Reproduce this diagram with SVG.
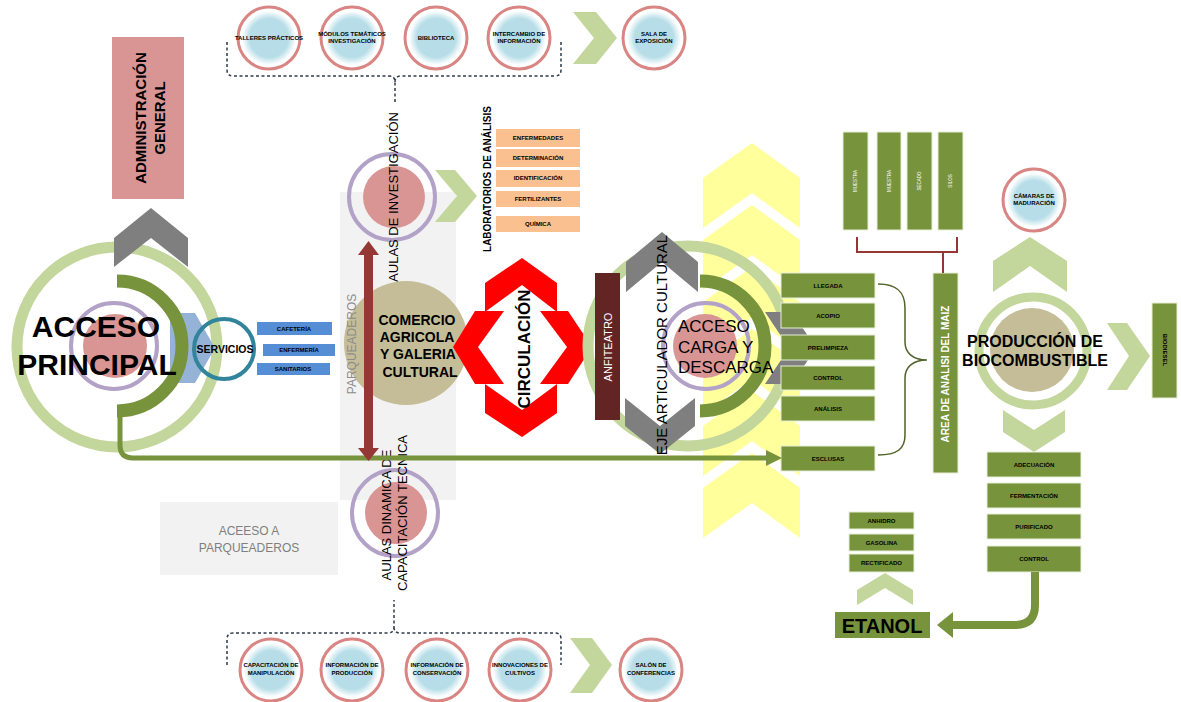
<svg xmlns="http://www.w3.org/2000/svg" width="1181" height="702" viewBox="0 0 1181 702">
<defs>
  <radialGradient id="lb" cx="0.5" cy="0.5" r="0.5">
    <stop offset="0" stop-color="#b7dee8"/>
    <stop offset="0.72" stop-color="#b7dee8"/>
    <stop offset="1" stop-color="#ffffff"/>
  </radialGradient>
  <style>
    text{font-family:"Liberation Sans",Arial,sans-serif;fill:#000}
    .ringL{fill:none;stroke:#c3d69b;stroke-width:11}
    .arcD{fill:none;stroke:#77933c;stroke-width:13}
    .pinkc{fill:#d99594}
    .purpRing{fill:none;stroke:#b3a2c7;stroke-width:4}
    .chevG{fill:#7f7f7f}
    .chevL{fill:#c3d69b}
    .chevY{fill:#ffff9c}
    .sm{font-size:6px;font-weight:bold;text-anchor:middle}
    .smRing{fill:none;stroke:#d98584;stroke-width:3}
    .gbox{fill:#77933c;stroke:#e8eed8;stroke-width:1}
    .obox{fill:#fac090}
    .bbox{fill:#558ed5}
    .red{fill:#ff0000}
    .vt{text-anchor:middle;dominant-baseline:central}
    .dash{fill:none;stroke:#2f3b4c;stroke-width:1.5;stroke-dasharray:3 2.5}
  </style>
</defs>
<rect width="1181" height="702" fill="#ffffff"/>

<!-- parking strip and parking access -->
<g id="parqueaderos">
  <rect x="340" y="192" width="116" height="308" fill="#f2f2f2"/>
</g>
<g id="acceso-parqueaderos">
  <rect x="160" y="502" width="178" height="73" fill="#f2f2f2"/>
  <text x="249" y="535" font-size="12" text-anchor="middle" style="fill:#7f7f7f">ACEESO A</text>
  <text x="249" y="552" font-size="12" text-anchor="middle" style="fill:#7f7f7f">PARQUEADEROS</text>
</g>

<!-- yellow chevron column -->
<g id="eje-chevrones">
  <polygon class="chevY" points="703,178 752,143 800,178 800,228 752,193 703,228"/>
  <polygon class="chevY" points="703,240 752,205 800,240 800,290 752,255 703,290"/>
  <polygon class="chevY" points="703,302 752,267 800,302 800,352 752,317 703,352"/>
  <polygon class="chevY" points="703,364 752,329 800,364 800,414 752,379 703,414"/>
  <polygon class="chevY" points="703,426 752,391 800,426 800,476 752,441 703,476"/>
  <polygon class="chevY" points="703,488 752,453 800,488 800,538 752,503 703,538"/>
</g>

<!-- top row of services -->
<g id="fila-superior">
  <g id="talleres"><circle cx="269" cy="38" r="27" fill="url(#lb)"/><circle class="smRing" cx="269" cy="38" r="31"/><text class="sm" x="269" y="40">TALLERES PRÁCTICOS</text></g>
  <g id="modulos"><circle cx="352" cy="38" r="27" fill="url(#lb)"/><circle class="smRing" cx="352" cy="38" r="31"/><text class="sm" x="352" y="36">MÓDULOS TEMÁTICOS</text><text class="sm" x="352" y="43">INVESTIGACIÓN</text></g>
  <g id="biblioteca"><circle cx="436" cy="38" r="27" fill="url(#lb)"/><circle class="smRing" cx="436" cy="38" r="31"/><text class="sm" x="436" y="40">BIBLIOTECA</text></g>
  <g id="intercambio"><circle cx="519" cy="38" r="27" fill="url(#lb)"/><circle class="smRing" cx="519" cy="38" r="31"/><text class="sm" x="519" y="36">INTERCAMBIO DE</text><text class="sm" x="519" y="43">INFORMACIÓN</text></g>
  <polygon class="chevL" points="573,12 596,12 617,38 596,64 573,64 594,38"/>
  <g id="salas"><circle cx="654" cy="38" r="27" fill="url(#lb)"/><circle class="smRing" cx="654" cy="38" r="31"/><text class="sm" x="654" y="36">SALA DE</text><text class="sm" x="654" y="43">EXPOSICIÓN</text></g>
</g>

<!-- bottom row of services -->
<g id="fila-inferior">
  <g id="capacitacion"><circle cx="271" cy="670" r="27" fill="url(#lb)"/><circle class="smRing" cx="271" cy="670" r="31"/><text class="sm" x="271" y="667">CAPACITACIÓN DE</text><text class="sm" x="271" y="675">MANIPULACIÓN</text></g>
  <g id="produccion-info"><circle cx="352" cy="670" r="27" fill="url(#lb)"/><circle class="smRing" cx="352" cy="670" r="31"/><text class="sm" x="352" y="667">INFORMACIÓN DE</text><text class="sm" x="352" y="675">PRODUCCIÓN</text></g>
  <g id="conservacion"><circle cx="437" cy="670" r="27" fill="url(#lb)"/><circle class="smRing" cx="437" cy="670" r="31"/><text class="sm" x="437" y="667">INFORMACIÓN DE</text><text class="sm" x="437" y="675">CONSERVACIÓN</text></g>
  <g id="innovaciones"><circle cx="520" cy="670" r="27" fill="url(#lb)"/><circle class="smRing" cx="520" cy="670" r="31"/><text class="sm" x="520" y="667">INNOVACIONES DE</text><text class="sm" x="520" y="675">CULTIVOS</text></g>
  <polygon class="chevL" points="570,638 592,638 612,665 592,693 570,693 590,665"/>
  <g id="conferencias"><circle cx="651" cy="670" r="27" fill="url(#lb)"/><circle class="smRing" cx="651" cy="670" r="31"/><text class="sm" x="651" y="667">SALÓN DE</text><text class="sm" x="651" y="675">CONFERENCIAS</text></g>
</g>

<!-- administration -->
<g id="administracion">
  <rect x="112" y="37" width="72" height="162" fill="#d99594"/>
  <text class="vt" transform="translate(140,118) rotate(-90)" font-size="15" font-weight="bold">ADMINISTRACIÓN</text>
  <text class="vt" transform="translate(159,118) rotate(-90)" font-size="15" font-weight="bold">GENERAL</text>
</g>

<!-- main access -->
<g id="acceso-principal">
  <circle class="ringL" cx="117" cy="347" r="100"/>
  <circle class="purpRing" cx="114" cy="346" r="43"/>
  <circle class="pinkc" cx="115" cy="346" r="32"/>
  <polygon class="chevG" points="114,238 151,208 188,238 188,267 151,238 114,267"/>
  <polygon fill="#95b3d7" points="170,313 195,313 215,348 195,383 170,383"/>
  <path class="arcD" d="M117,281 A65,65 0 0 1 117,411"/>
  <text x="96" y="337" font-size="30" font-weight="bold" text-anchor="middle">ACCESO</text>
  <text x="97" y="375" font-size="30" font-weight="bold" text-anchor="middle">PRINCIPAL</text>
</g>

<!-- services -->
<g id="servicios">
  <circle cx="224" cy="349" r="30" fill="none" stroke="#31849b" stroke-width="4"/>
  <text x="225" y="353" font-size="10.5" font-weight="bold" text-anchor="middle">SERVICIOS</text>
  <rect class="bbox" x="257" y="322" width="75" height="13"/>
  <rect class="bbox" x="263" y="344" width="72" height="12"/>
  <rect class="bbox" x="257" y="363" width="73" height="12"/>
  <text class="sm" x="294" y="331">CAFETERÍA</text>
  <text class="sm" x="299" y="352">ENFERMERÍA</text>
  <text class="sm" x="293" y="371">SANITARIOS</text>
</g>

<!-- research classrooms -->
<g id="aulas-investigacion">
  <circle class="purpRing" cx="392" cy="197" r="43"/>
  <circle class="pinkc" cx="394" cy="197" r="31"/>
  <text class="vt" transform="translate(393,197) rotate(-90)" font-size="13">AULAS DE INVESTIGACIÓN</text>
  <polygon class="chevL" points="435,170 455,170 477,196 455,222 435,222 457,196"/>
</g>

<!-- analysis labs -->
<g id="laboratorios">
  <text class="vt" transform="translate(487,179) rotate(-90)" font-size="10" font-weight="bold">LABORATORIOS DE ANÁLISIS</text>
  <rect class="obox" x="496" y="129" width="84" height="18"/>
  <rect class="obox" x="496" y="149" width="84" height="18"/>
  <rect class="obox" x="496" y="170" width="84" height="17"/>
  <rect class="obox" x="496" y="191" width="84" height="16"/>
  <rect class="obox" x="496" y="216" width="84" height="16"/>
  <text class="sm" x="538" y="140">ENFERMEDADES</text>
  <text class="sm" x="538" y="160">DETERMINACIÓN</text>
  <text class="sm" x="538" y="180">IDENTIFICACIÓN</text>
  <text class="sm" x="538" y="201">FERTILIZANTES</text>
  <text class="sm" x="538" y="226">QUÍMICA</text>
</g>

<!-- commerce -->
<g id="comercio">
  <circle cx="406" cy="343" r="62" fill="#c4bd97"/>
  <text x="417" y="325" font-size="14" font-weight="bold" text-anchor="middle">COMERCIO</text>
  <text x="417" y="342" font-size="14" font-weight="bold" text-anchor="middle">AGRICOLA</text>
  <text x="418" y="359" font-size="14" font-weight="bold" text-anchor="middle">Y GALERIA</text>
  <text x="420" y="377" font-size="14" font-weight="bold" text-anchor="middle">CULTURAL</text>
  <text class="vt" transform="translate(352,344) rotate(-90)" font-size="12" style="fill:#8c8c8c">PARQUEADEROS</text>
</g>

<!-- dynamic classrooms -->
<g id="aulas-dinamicas">
  <circle class="purpRing" cx="395" cy="513" r="43"/>
  <circle class="pinkc" cx="396" cy="513" r="31"/>
  <text class="vt" transform="translate(386,515) rotate(-90)" font-size="13">AULAS DINAMICA DE</text>
  <text class="vt" transform="translate(402,513) rotate(-90)" font-size="13">CAPACITACIÓN TECNICA</text>
</g>

<!-- circulation -->
<g id="circulacion">
  <polygon class="red" points="485,283 522,258 557,283 557,312 522,285 485,312"/>
  <polygon class="red" points="453,347 475,311 504,311 478,347 504,384 475,384"/>
  <polygon class="red" points="592,347 568,311 540,311 567,347 540,384 568,384"/>
  <polygon class="red" points="485,413 522,437 557,413 557,384 522,410 485,384"/>
  <text class="vt" transform="translate(524,349) rotate(-90)" font-size="17" font-weight="bold">CIRCULACIÓN</text>
</g>

<!-- loading and unloading access -->
<g id="acceso-carga">
  <circle class="ringL" cx="688" cy="346" r="100"/>
  <polygon class="chevG" points="626,262 662,232 698,262 698,292 662,262 626,292"/>
  <polygon class="chevG" points="625,398 660,426 695,398 695,426 660,454 625,426"/>
  <polygon class="chevG" points="765,312 792,312 816,348 792,384 765,384 789,348"/>
  <circle class="purpRing" cx="706" cy="346" r="43"/>
  <circle class="pinkc" cx="705" cy="346" r="32"/>
  <path class="arcD" d="M700,281 A65,65 0 0 1 700,411"/>
  <text x="678" y="332" font-size="17">ACCESO</text>
  <text x="678" y="353" font-size="17">CARGA Y</text>
  <text x="678" y="373" font-size="17">DESCARGA</text>
  <text class="vt" transform="translate(661,345) rotate(-90)" font-size="15">EJE ARTICULADOR CULTURAL</text>
</g>

<!-- amphitheatre -->
<g id="anfiteatro">
  <rect x="595" y="273" width="25" height="147" fill="#632523"/>
  <text class="vt" transform="translate(607.5,347) rotate(-90)" font-size="11" style="fill:#ffffff">ANFITEATRO</text>
</g>

<!-- corn reception steps -->
<g id="recepcion">
  <rect class="gbox" x="781" y="273" width="94" height="25"/>
  <rect class="gbox" x="781" y="303" width="94" height="25"/>
  <rect class="gbox" x="781" y="335" width="94" height="25"/>
  <rect class="gbox" x="781" y="366" width="94" height="24"/>
  <rect class="gbox" x="781" y="396" width="94" height="25"/>
  <rect class="gbox" x="781" y="446" width="94" height="25"/>
  <text class="sm" x="828" y="288">LLEGADA</text>
  <text class="sm" x="828" y="318">ACOPIO</text>
  <text class="sm" x="828" y="350">PRELIMPIEZA</text>
  <text class="sm" x="828" y="380">CONTROL</text>
  <text class="sm" x="828" y="411">ANÁLISIS</text>
  <text class="sm" x="828" y="461">ESCLUSAS</text>
</g>

<!-- corn analysis area -->
<g id="area-analisis">
  <rect class="gbox" x="843" y="132" width="25" height="98"/>
  <rect class="gbox" x="877" y="132" width="24" height="98"/>
  <rect class="gbox" x="907" y="132" width="25" height="98"/>
  <rect class="gbox" x="938" y="132" width="25" height="98"/>
  <text class="vt" transform="translate(855.5,181) rotate(-90)" font-size="4.5" style="fill:#ffffff">MUESTRA</text>
  <text class="vt" transform="translate(889,181) rotate(-90)" font-size="4.5" style="fill:#ffffff">MUESTRA</text>
  <text class="vt" transform="translate(919.5,181) rotate(-90)" font-size="4.5" style="fill:#ffffff">SECADO</text>
  <text class="vt" transform="translate(950.5,181) rotate(-90)" font-size="4.5" style="fill:#ffffff">SILOS</text>
  <rect class="gbox" x="933" y="273" width="25" height="200"/>
  <text class="vt" transform="translate(945.5,374) rotate(-90)" font-size="10" font-weight="bold" style="fill:#ffffff">AREA DE ANALISI DEL MAIZ</text>
</g>

<!-- biofuel production -->
<g id="produccion">
  <circle cx="1033" cy="351" r="54" fill="none" stroke="#c3d69b" stroke-width="9"/>
  <circle cx="1032" cy="350" r="42" fill="#c4bd97"/>
  <polygon class="chevL" points="993,261 1030,237 1067,261 1067,292 1030,266 993,292"/>
  <text x="1035" y="347" font-size="16" font-weight="bold" text-anchor="middle">PRODUCCIÓN DE</text>
  <text x="1035" y="366" font-size="16" font-weight="bold" text-anchor="middle">BIOCOMBUSTIBLE</text>
  <polygon class="chevL" points="1107,323 1127,323 1150,356 1127,390 1107,390 1129,356"/>
  <polygon class="chevL" points="1003,410 1034,430 1065,410 1065,432 1034,452 1003,432"/>
</g>
<g id="camaras">
  <circle cx="1034" cy="200" r="27" fill="url(#lb)"/><circle class="smRing" cx="1034" cy="200" r="31"/>
  <text class="sm" x="1034" y="198">CÁMARAS DE</text><text class="sm" x="1034" y="205">MADURACIÓN</text>
</g>
<g id="biodiesel">
  <rect class="gbox" x="1152" y="303" width="25" height="95"/>
  <text class="vt" transform="translate(1164.5,350) rotate(90)" font-size="6" font-weight="bold">BIODIESEL</text>
</g>
<g id="proceso-etanol">
  <rect class="gbox" x="987" y="452" width="94" height="25"/>
  <rect class="gbox" x="987" y="483" width="94" height="25"/>
  <rect class="gbox" x="987" y="514" width="94" height="25"/>
  <rect class="gbox" x="987" y="546" width="94" height="26"/>
  <text class="sm" x="1034" y="467">ADECUACIÓN</text>
  <text class="sm" x="1034" y="498">FERMENTACIÓN</text>
  <text class="sm" x="1034" y="529">PURIFICADO</text>
  <text class="sm" x="1034" y="561">CONTROL</text>
</g>
<g id="etanol">
  <rect class="gbox" x="849" y="512" width="65" height="17"/>
  <rect class="gbox" x="849" y="534" width="65" height="17"/>
  <rect class="gbox" x="849" y="554" width="65" height="18"/>
  <text class="sm" x="881.5" y="523">ANHIDRO</text>
  <text class="sm" x="881.5" y="545">GASOLINA</text>
  <text class="sm" x="881.5" y="565">RECTIFICADO</text>
  <polygon class="chevL" points="857,590 885,573 913,590 913,605 885,588 857,605"/>
  <rect x="835" y="612" width="95" height="26" fill="#77933c"/>
  <text x="882" y="633" font-size="20" font-weight="bold" text-anchor="middle">ETANOL</text>
</g>

<!-- connectors -->
<g id="conectores">
  <path class="dash" d="M227,42 L227,70 Q227,76 233,76 L389,76 Q395,76 395,82 L395,103 M395,82 Q395,76 401,76 L555,76 Q561,76 561,70 L561,42"/>
  <path class="dash" d="M227,665 L227,639 Q227,633 233,633 L388,633 Q394,633 394,627 L394,600 M394,627 Q394,633 400,633 L555,633 Q561,633 561,639 L561,665"/>
  <path d="M120,405 L120,445 Q120,458 133,458 L768,458" fill="none" stroke="#77933c" stroke-width="5"/>
  <polygon fill="#77933c" points="766,450 782,458 766,466"/>
  <rect x="364" y="253" width="9" height="197" fill="#953735"/>
  <polygon fill="#953735" points="358,255 368.5,241 379,255"/>
  <polygon fill="#953735" points="358,448 368.5,461 379,448"/>
  <path d="M878,284 C897,284 905,292 905,308 L905,342 C905,353 913,360 927,360 C913,360 905,367 905,378 L905,435 C905,449 897,455 878,455" fill="none" stroke="#4f6228" stroke-width="1.5"/>
  <path d="M857,237 L857,252 L957,252 L957,237 M943,252 L943,273" fill="none" stroke="#953735" stroke-width="2"/>
  <path d="M1035,572 L1035,605 Q1035,625 1015,625 L950,625" fill="none" stroke="#77933c" stroke-width="8"/>
  <polygon fill="#77933c" points="953,612 937,625 953,638"/>
</g>
</svg>
